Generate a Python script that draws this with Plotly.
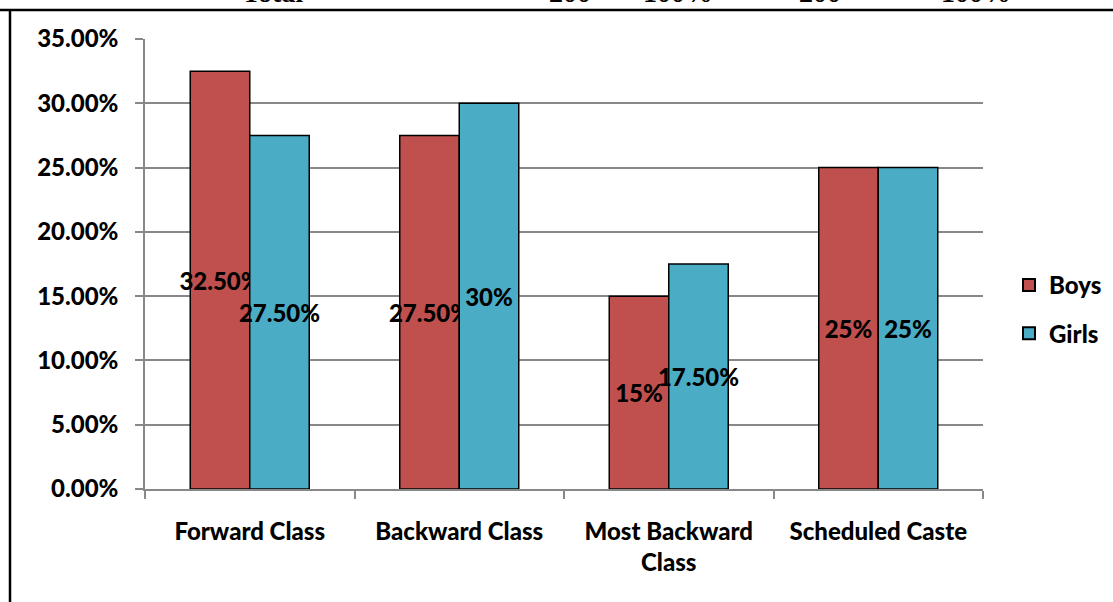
import plotly.graph_objects as go

categories = ["Forward Class", "Backward Class", "Most Backward<br>Class", "Scheduled Caste"]
boys = [0.325, 0.275, 0.15, 0.25]
girls = [0.275, 0.30, 0.175, 0.25]
boys_text = ["32.50%", "27.50%", "15%", "25%"]
girls_text = ["27.50%", "30%", "17.50%", "25%"]

# header row of the table above the chart (only its lower edge shows)
header_text = ["Total", "200", "100%", "200", "100%"]
header_x = [272, 570, 678, 820, 976]

W, H = 1113, 602
L, R, T, B = 145, 983, 39, 489


def px_x(px):
    return (px - L) / (R - L)


def px_y(py):
    return (B - py) / (B - T)


FONT = "Lato"
FS = 24
BOYS_COLOR = "#C0504D"
GIRLS_COLOR = "#4BACC6"

fig = go.Figure()
for name, vals, txt, col in [("Boys", boys, boys_text, BOYS_COLOR),
                             ("Girls", girls, girls_text, GIRLS_COLOR)]:
    fig.add_trace(go.Bar(
        name=name, legendgroup=name, x=categories, y=vals, text=txt,
        textposition="inside", insidetextanchor="middle", constraintext="none",
        textangle=0,
        insidetextfont=dict(family=FONT, size=FS, color="black", weight=900),
        marker=dict(color=col, line=dict(color="black", width=1.5)),
        hoverinfo="skip",
    ))

shapes = [
    dict(type="line", xref="paper", yref="paper", x0=px_x(0), x1=px_x(W),
         y0=px_y(10), y1=px_y(10), line=dict(color="black", width=2.5)),
    dict(type="line", xref="paper", yref="paper", x0=px_x(10), x1=px_x(10),
         y0=px_y(9), y1=px_y(W), line=dict(color="black", width=2.5)),
]

annotations = [
    dict(text=t, x=px_x(x), y=px_y(10), xref="paper", yref="paper",
         xanchor="center", yanchor="bottom", showarrow=False,
         font=dict(family="Liberation Serif", size=28, color="black"))
    for t, x in zip(header_text, header_x)
]

fig.update_layout(
    width=W, height=H,
    margin=dict(l=L, r=W - R, t=T, b=H - B, autoexpand=False),
    paper_bgcolor="white", plot_bgcolor="white",
    barmode="group", bargap=0.432, bargroupgap=0,
    font=dict(family=FONT, size=FS, color="black", weight=900),
    shapes=shapes, annotations=annotations,
    legend=dict(x=px_x(1009), y=px_y(263), xanchor="left", yanchor="top",
                font=dict(family=FONT, size=FS, color="black", weight=900),
                itemsizing="constant", tracegroupgap=14, bgcolor="rgba(0,0,0,0)"),
    showlegend=True,
)
fig.update_xaxes(
    showline=True, linecolor="#888888", linewidth=1.5,
    ticks="outside", tickson="boundaries", ticklen=8, tickcolor="#888888",
    tickwidth=1.5, showgrid=False, ticklabelstandoff=20,
    tickfont=dict(family=FONT, size=FS, color="black", weight=900),
)
fig.update_yaxes(
    range=[0, 0.35], dtick=0.05, tickformat=".2%",
    showline=True, linecolor="#888888", linewidth=1.5,
    ticks="outside", ticklen=8, tickcolor="#888888", tickwidth=1.5,
    showgrid=True, gridcolor="#888888", gridwidth=1.5, zeroline=False,
    ticklabelstandoff=12,
    tickfont=dict(family=FONT, size=FS, color="black", weight=900),
)

fig.write_html("out.html")
